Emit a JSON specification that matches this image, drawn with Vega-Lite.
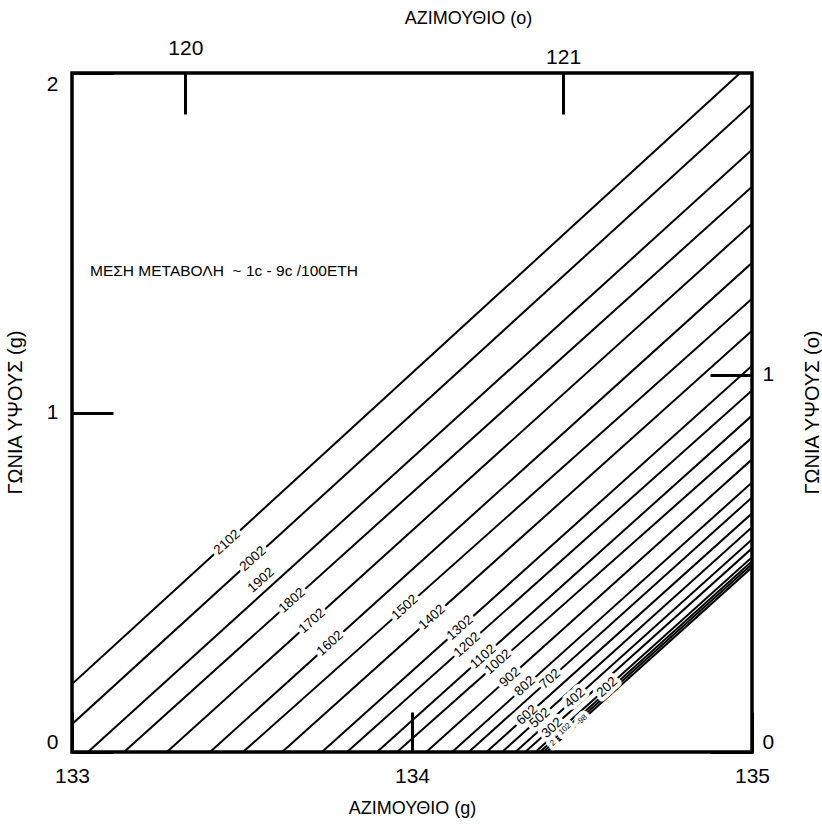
{
  "$schema": "https://vega.github.io/schema/vega-lite/v6.json",
  "width": 680,
  "height": 679,
  "autosize": {"type": "none"},
  "padding": {"left": 72, "top": 73, "right": 70, "bottom": 80},
  "background": "white",
  "config": {
    "view": {"stroke": "#000", "strokeWidth": 3.5},
    "font": "Liberation Sans",
    "axis": {
      "domain": false,
      "grid": false,
      "tickColor": "#000",
      "tickWidth": 3,
      "labelColor": "#000",
      "titleColor": "#000",
      "labelFont": "Liberation Sans",
      "titleFont": "Liberation Sans",
      "labelFontSize": 21,
      "titleFontSize": 18,
      "titleFontWeight": "normal",
      "labelOverlap": false,
      "tickCount": 10
    }
  },
  "datasets": {
    "lines": [
      {"year": "2102", "az": 133.0, "el": 0.2},
      {"year": "2102", "az": 134.965, "el": 2.0},
      {"year": "2002", "az": 133.0, "el": 0.082},
      {"year": "2002", "az": 135.0, "el": 1.909},
      {"year": "1902", "az": 133.047, "el": 0},
      {"year": "1902", "az": 135.0, "el": 1.774},
      {"year": "1802", "az": 133.153, "el": 0},
      {"year": "1802", "az": 135.0, "el": 1.665},
      {"year": "1702", "az": 133.279, "el": 0},
      {"year": "1702", "az": 135.0, "el": 1.556},
      {"year": "1602", "az": 133.406, "el": 0},
      {"year": "1602", "az": 135.0, "el": 1.441},
      {"year": "1502", "az": 133.503, "el": 0},
      {"year": "1502", "az": 135.0, "el": 1.335},
      {"year": "1402", "az": 133.618, "el": 0},
      {"year": "1402", "az": 135.0, "el": 1.241},
      {"year": "1302", "az": 133.735, "el": 0},
      {"year": "1302", "az": 135.0, "el": 1.138},
      {"year": "1202", "az": 133.809, "el": 0},
      {"year": "1202", "az": 135.0, "el": 1.065},
      {"year": "1102", "az": 133.897, "el": 0},
      {"year": "1102", "az": 135.0, "el": 0.991},
      {"year": "1002", "az": 133.956, "el": 0},
      {"year": "1002", "az": 135.0, "el": 0.926},
      {"year": "902", "az": 134.042, "el": 0},
      {"year": "902", "az": 135.0, "el": 0.862},
      {"year": "802", "az": 134.118, "el": 0},
      {"year": "802", "az": 135.0, "el": 0.794},
      {"year": "702", "az": 134.167, "el": 0},
      {"year": "702", "az": 135.0, "el": 0.75},
      {"year": "602", "az": 134.219, "el": 0},
      {"year": "602", "az": 135.0, "el": 0.703},
      {"year": "502", "az": 134.265, "el": 0},
      {"year": "502", "az": 135.0, "el": 0.662},
      {"year": "402", "az": 134.304, "el": 0},
      {"year": "402", "az": 135.0, "el": 0.626},
      {"year": "302", "az": 134.333, "el": 0},
      {"year": "302", "az": 135.0, "el": 0.6},
      {"year": "202", "az": 134.363, "el": 0},
      {"year": "202", "az": 135.0, "el": 0.574},
      {"year": "102", "az": 134.376, "el": 0},
      {"year": "102", "az": 135.0, "el": 0.562},
      {"year": "2", "az": 134.386, "el": 0},
      {"year": "2", "az": 135.0, "el": 0.553},
      {"year": "-98", "az": 134.396, "el": 0},
      {"year": "-98", "az": 135.0, "el": 0.544}
    ],
    "labels": [
      {"lab": "2102", "kind": "major", "az": 133.456, "el": 0.618},
      {"lab": "2002", "kind": "major", "az": 133.532, "el": 0.569},
      {"lab": "1902", "kind": "major", "az": 133.556, "el": 0.506},
      {"lab": "1802", "kind": "major", "az": 133.647, "el": 0.446},
      {"lab": "1702", "kind": "major", "az": 133.706, "el": 0.386},
      {"lab": "1602", "kind": "major", "az": 133.759, "el": 0.32},
      {"lab": "1502", "kind": "major", "az": 133.979, "el": 0.426},
      {"lab": "1402", "kind": "major", "az": 134.059, "el": 0.397},
      {"lab": "1302", "kind": "major", "az": 134.141, "el": 0.366},
      {"lab": "1202", "kind": "major", "az": 134.162, "el": 0.316},
      {"lab": "1102", "kind": "major", "az": 134.209, "el": 0.281},
      {"lab": "1002", "kind": "major", "az": 134.253, "el": 0.265},
      {"lab": "902", "kind": "major", "az": 134.288, "el": 0.22},
      {"lab": "802", "kind": "major", "az": 134.332, "el": 0.194},
      {"lab": "702", "kind": "major", "az": 134.406, "el": 0.215},
      {"lab": "602", "kind": "major", "az": 134.338, "el": 0.109},
      {"lab": "502", "kind": "major", "az": 134.376, "el": 0.1},
      {"lab": "402", "kind": "major", "az": 134.479, "el": 0.159},
      {"lab": "302", "kind": "major", "az": 134.412, "el": 0.071},
      {"lab": "202", "kind": "major", "az": 134.574, "el": 0.191},
      {"lab": "102", "kind": "minor", "az": 134.45, "el": 0.067},
      {"lab": "2", "kind": "minor", "az": 134.415, "el": 0.026},
      {"lab": "-98", "kind": "minor", "az": 134.5, "el": 0.094}
    ],
    "note": [
      {"text": "ΜΕΣΗ ΜΕΤΑΒΟΛΗ\u00a0\u00a0~ 1c - 9c /100ΕΤΗ", "az": 133.053, "el": 1.418}
    ],
    "deg": [
      {"azd": 120, "eld": 1},
      {"azd": 121, "eld": 0}
    ]
  },
  "layer": [
    {
      "data": {"name": "lines"},
      "mark": {"type": "line", "color": "#000", "strokeWidth": 2, "clip": true},
      "encoding": {
        "x": {
          "field": "az", "type": "quantitative",
          "scale": {"domain": [133, 135], "nice": false, "zero": false},
          "axis": {
            "orient": "bottom",
            "values": [133, 134, 135],
            "tickCount": 10,
            "tickMinStep": 0.1,
            "format": "d",
            "tickSize": -40,
            "labelPadding": 53,
            "labelFlush": false,
            "labelBaseline": "top",
            "title": "ΑΖΙΜΟΥΘΙΟ (g)",
            "titleBaseline": "middle",
            "titleY": 56,
            "titleX": 340
          }
        },
        "y": {
          "field": "el", "type": "quantitative",
          "scale": {"domain": [0, 2], "nice": false, "zero": false},
          "axis": {
            "orient": "left",
            "values": [0, 1, 2],
            "tickCount": 10,
            "tickMinStep": 0.1,
            "format": "d",
            "tickSize": -41,
            "labelPadding": 55,
            "labelFlush": true,
            "title": "ΓΩΝΙΑ ΥΨΟΥΣ (g)",
            "titleFontSize": 20,
            "titleAngle": -90,
            "titleBaseline": "middle",
            "titleAlign": "center",
            "titleX": -57,
            "titleY": 339
          }
        },
        "detail": {"field": "year", "type": "nominal"}
      }
    },
    {
      "data": {"name": "labels"},
      "mark": {"type": "text", "angle": -42, "fill": "white", "stroke": "white", "strokeWidth": 8, "strokeJoin": "round", "align": "center", "baseline": "middle"},
      "encoding": {
        "x": {"field": "az", "type": "quantitative", "scale": {"domain": [133, 135], "nice": false, "zero": false}, "axis": null},
        "y": {"field": "el", "type": "quantitative", "scale": {"domain": [0, 2], "nice": false, "zero": false}, "axis": null},
        "text": {"field": "lab"},
        "size": {"field": "kind", "type": "nominal", "scale": {"domain": ["major", "minor"], "range": [13.5, 8]}, "legend": null}
      }
    },
    {
      "data": {"name": "labels"},
      "mark": {"type": "text", "angle": -42, "fill": "#000", "align": "center", "baseline": "middle"},
      "encoding": {
        "x": {"field": "az", "type": "quantitative", "scale": {"domain": [133, 135], "nice": false, "zero": false}, "axis": null},
        "y": {"field": "el", "type": "quantitative", "scale": {"domain": [0, 2], "nice": false, "zero": false}, "axis": null},
        "text": {"field": "lab"},
        "size": {"field": "kind", "type": "nominal", "scale": {"domain": ["major", "minor"], "range": [13.5, 8]}, "legend": null}
      }
    },
    {
      "data": {"name": "note"},
      "mark": {"type": "text", "fill": "#000", "fontSize": 15.5, "align": "left", "baseline": "middle"},
      "encoding": {
        "x": {"field": "az", "type": "quantitative", "scale": {"domain": [133, 135], "nice": false, "zero": false}, "axis": null},
        "y": {"field": "el", "type": "quantitative", "scale": {"domain": [0, 2], "nice": false, "zero": false}, "axis": null},
        "text": {"field": "text"}
      }
    },
    {
      "data": {"name": "deg"},
      "mark": {"type": "point", "opacity": 0},
      "encoding": {
        "x": {
          "field": "azd", "type": "quantitative",
          "scale": {"domain": [119.7, 121.5], "nice": false, "zero": false},
          "axis": {
            "orient": "top",
            "values": [120, 121],
            "tickCount": 10,
            "tickMinStep": 0.1,
            "format": "d",
            "tickSize": -41,
            "labelPadding": {"condition": {"test": "datum.value == 121", "value": 47}, "value": 56},
            "labelFlush": false,
            "title": "ΑΖΙΜΟΥΘΙΟ (ο)",
            "titleBaseline": "middle",
            "titleAlign": "center",
            "titleX": 396,
            "titleY": -55
          }
        },
        "y": {
          "field": "eld", "type": "quantitative",
          "scale": {"domain": [0, 1.8], "nice": false, "zero": false},
          "axis": {
            "orient": "right",
            "values": [0, 1],
            "tickCount": 10,
            "tickMinStep": 0.1,
            "format": "d",
            "tickSize": -42,
            "labelPadding": 52,
            "labelFlush": true,
            "title": "ΓΩΝΙΑ ΥΨΟΥΣ (ο)",
            "titleFontSize": 20,
            "titleAngle": -90,
            "titleBaseline": "middle",
            "titleAlign": "center",
            "titleX": 60,
            "titleY": 339
          }
        }
      }
    }
  ],
  "resolve": {
    "scale": {"x": "independent", "y": "independent"},
    "axis": {"x": "independent", "y": "independent"}
  }
}
